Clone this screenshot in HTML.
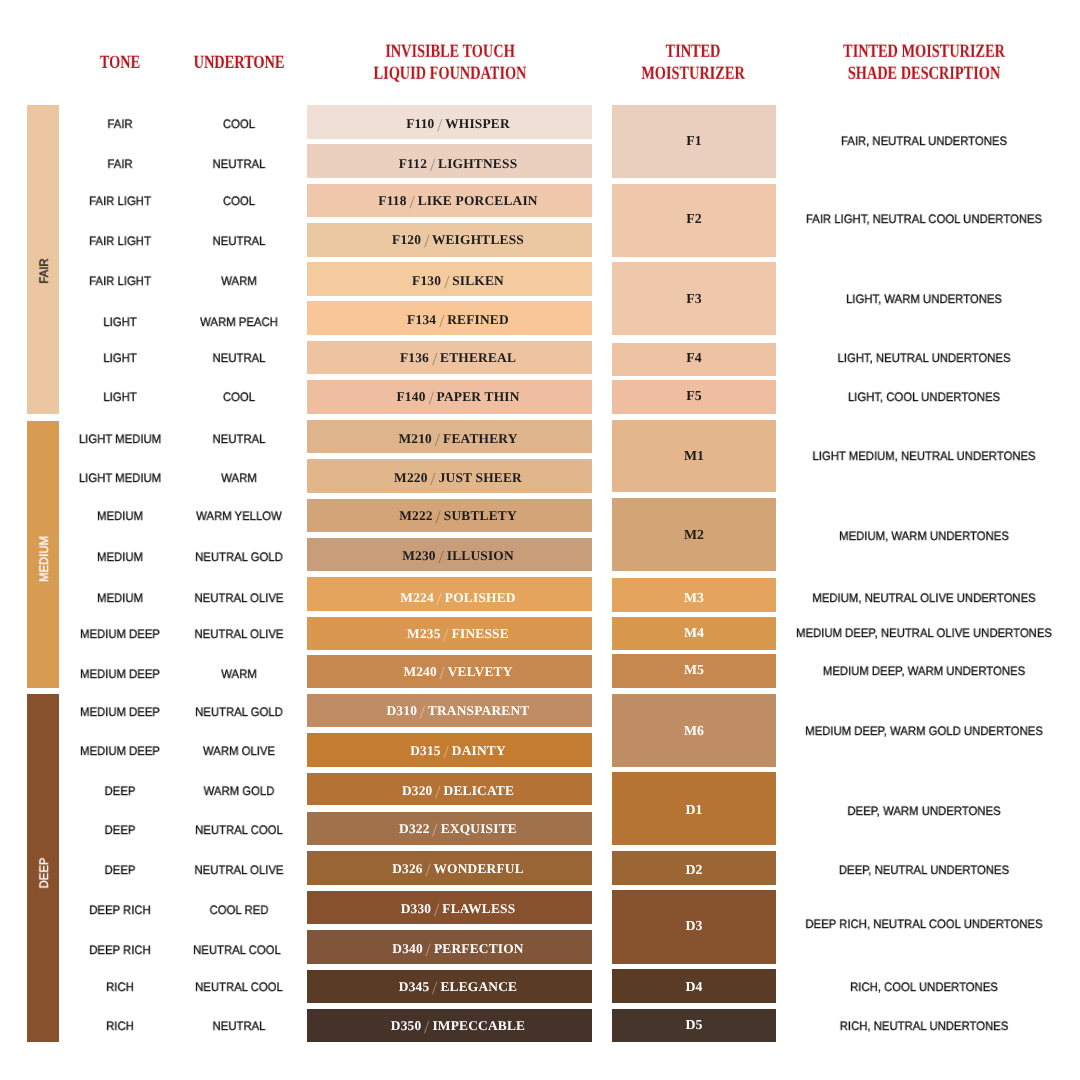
<!DOCTYPE html>
<html><head><meta charset="utf-8"><title>Shade Chart</title>
<style>
html,body{margin:0;padding:0;background:#fff;}
body{width:1080px;height:1080px;position:relative;overflow:hidden;}
.b{position:absolute;}
.t{position:absolute;white-space:nowrap;line-height:1;will-change:transform;text-rendering:geometricPrecision;}
.s{font-family:"Liberation Sans",sans-serif;font-size:12.2px;color:#111;-webkit-text-stroke:0.3px #111;transform:translate(-50%,-50%) scaleX(0.93);}
.f{font-family:"Liberation Serif",serif;font-weight:bold;font-size:13.4px;letter-spacing:0.2px;color:#1c1c1c;transform:translate(-50%,-50%);}
.f i{font-style:normal;font-weight:normal;opacity:.38;display:inline-block;transform:translateY(.6px) scale(1.4);}
.f.m{font-size:13.8px;letter-spacing:0;}
.t.w{color:#fff;}
.h{font-family:"Liberation Serif",serif;font-weight:bold;font-size:18.6px;color:#bb1119;line-height:22.2px;text-align:center;transform:translate(-50%,-50%) scaleX(0.77);}
.v{font-family:"Liberation Sans",sans-serif;font-size:12.2px;color:#111;-webkit-text-stroke:0.3px;transform:translate(-50%,-50%) rotate(-90deg) scaleX(0.93);}
</style></head><body>

<div class="t h" style="left:120.4px;top:62.5px">TONE</div>
<div class="t h" style="left:238.7px;top:62.5px">UNDERTONE</div>
<div class="t h" style="left:449.5px;top:62.5px">INVISIBLE TOUCH<br>LIQUID FOUNDATION</div>
<div class="t h" style="left:692.8px;top:62.5px">TINTED<br>MOISTURIZER</div>
<div class="t h" style="left:923.7px;top:62.5px">TINTED MOISTURIZER<br>SHADE DESCRIPTION</div>
<div class="b" style="left:27.2px;top:105px;width:31.6px;height:308.7px;background:#ecc6a1"></div>
<div class="t v" style="left:44.2px;top:270.5px">FAIR</div>
<div class="b" style="left:27.2px;top:421px;width:31.6px;height:267.2px;background:#d89b52"></div>
<div class="t v w" style="left:44.2px;top:558.6px">MEDIUM</div>
<div class="b" style="left:27.2px;top:694px;width:31.6px;height:348px;background:#88512d"></div>
<div class="t v w" style="left:44.2px;top:872.6px">DEEP</div>
<div class="t s" style="left:120.4px;top:124.1px">FAIR</div>
<div class="t s" style="left:238.7px;top:124.1px">COOL</div>
<div class="b" style="left:306.7px;top:105px;width:285.5px;height:33.9px;background:#efdfd4"></div>
<div class="t f" style="left:457.8px;top:123.8px">F110 <i>/</i> WHISPER</div>
<div class="t s" style="left:120.4px;top:164.1px">FAIR</div>
<div class="t s" style="left:238.7px;top:164.1px">NEUTRAL</div>
<div class="b" style="left:306.7px;top:144.4px;width:285.5px;height:33.8px;background:#ebd0bf"></div>
<div class="t f" style="left:457.8px;top:163.7px">F112 <i>/</i> LIGHTNESS</div>
<div class="t s" style="left:120.4px;top:201.1px">FAIR LIGHT</div>
<div class="t s" style="left:238.7px;top:201.1px">COOL</div>
<div class="b" style="left:306.7px;top:183.8px;width:285.5px;height:33.2px;background:#efc8ac"></div>
<div class="t f" style="left:457.8px;top:200.6px">F118 <i>/</i> LIKE PORCELAIN</div>
<div class="t s" style="left:120.4px;top:241.1px">FAIR LIGHT</div>
<div class="t s" style="left:238.7px;top:241.1px">NEUTRAL</div>
<div class="b" style="left:306.7px;top:222.9px;width:285.5px;height:33.8px;background:#ecc8a2"></div>
<div class="t f" style="left:457.8px;top:240.2px">F120 <i>/</i> WEIGHTLESS</div>
<div class="t s" style="left:120.4px;top:281.1px">FAIR LIGHT</div>
<div class="t s" style="left:238.7px;top:281.1px">WARM</div>
<div class="b" style="left:306.7px;top:261.8px;width:285.5px;height:33.8px;background:#f3cb9f"></div>
<div class="t f" style="left:457.8px;top:280.6px">F130 <i>/</i> SILKEN</div>
<div class="t s" style="left:120.4px;top:322.2px">LIGHT</div>
<div class="t s" style="left:238.7px;top:322.2px">WARM PEACH</div>
<div class="b" style="left:306.7px;top:301px;width:285.5px;height:33.9px;background:#f9c698"></div>
<div class="t f" style="left:457.8px;top:319.6px">F134 <i>/</i> REFINED</div>
<div class="t s" style="left:120.4px;top:357.8px">LIGHT</div>
<div class="t s" style="left:238.7px;top:357.8px">NEUTRAL</div>
<div class="b" style="left:306.7px;top:341.1px;width:285.5px;height:33.3px;background:#edc3a2"></div>
<div class="t f" style="left:457.8px;top:358.3px">F136 <i>/</i> ETHEREAL</div>
<div class="t s" style="left:120.4px;top:397px">LIGHT</div>
<div class="t s" style="left:238.7px;top:397px">COOL</div>
<div class="b" style="left:306.7px;top:380.3px;width:285.5px;height:33.4px;background:#efbea0"></div>
<div class="t f" style="left:457.8px;top:396.6px">F140 <i>/</i> PAPER THIN</div>
<div class="t s" style="left:120.4px;top:438.9px">LIGHT MEDIUM</div>
<div class="t s" style="left:238.7px;top:438.9px">NEUTRAL</div>
<div class="b" style="left:306.7px;top:420px;width:285.5px;height:32.9px;background:#deb48d"></div>
<div class="t f" style="left:457.8px;top:438.8px">M210 <i>/</i> FEATHERY</div>
<div class="t s" style="left:120.4px;top:477.7px">LIGHT MEDIUM</div>
<div class="t s" style="left:238.7px;top:477.7px">WARM</div>
<div class="b" style="left:306.7px;top:459.3px;width:285.5px;height:33.4px;background:#e2b68b"></div>
<div class="t f" style="left:457.8px;top:477.7px">M220 <i>/</i> JUST SHEER</div>
<div class="t s" style="left:120.4px;top:516.1px">MEDIUM</div>
<div class="t s" style="left:238.7px;top:516.1px">WARM YELLOW</div>
<div class="b" style="left:306.7px;top:498.9px;width:285.5px;height:32.9px;background:#d2a478"></div>
<div class="t f" style="left:457.8px;top:515.7px">M222 <i>/</i> SUBTLETY</div>
<div class="t s" style="left:120.4px;top:556.8px">MEDIUM</div>
<div class="t s" style="left:238.7px;top:556.8px">NEUTRAL GOLD</div>
<div class="b" style="left:306.7px;top:537.8px;width:285.5px;height:32.9px;background:#c89d79"></div>
<div class="t f" style="left:457.8px;top:556.1px">M230 <i>/</i> ILLUSION</div>
<div class="t s" style="left:120.4px;top:598.2px">MEDIUM</div>
<div class="t s" style="left:238.7px;top:598.2px">NEUTRAL OLIVE</div>
<div class="b" style="left:306.7px;top:577.1px;width:285.5px;height:33.6px;background:#e5a45e"></div>
<div class="t f w" style="left:457.8px;top:597.8px">M224 <i>/</i> POLISHED</div>
<div class="t s" style="left:120.4px;top:634px">MEDIUM DEEP</div>
<div class="t s" style="left:238.7px;top:634px">NEUTRAL OLIVE</div>
<div class="b" style="left:306.7px;top:616.7px;width:285.5px;height:33.3px;background:#d9974f"></div>
<div class="t f w" style="left:457.8px;top:633.9px">M235 <i>/</i> FINESSE</div>
<div class="t s" style="left:120.4px;top:673.8px">MEDIUM DEEP</div>
<div class="t s" style="left:238.7px;top:673.8px">WARM</div>
<div class="b" style="left:306.7px;top:654.9px;width:285.5px;height:33.3px;background:#c7884f"></div>
<div class="t f w" style="left:457.8px;top:671.8px">M240 <i>/</i> VELVETY</div>
<div class="t s" style="left:120.4px;top:711.8px">MEDIUM DEEP</div>
<div class="t s" style="left:238.7px;top:711.8px">NEUTRAL GOLD</div>
<div class="b" style="left:306.7px;top:694px;width:285.5px;height:33.1px;background:#c08c63"></div>
<div class="t f w" style="left:457.8px;top:711.3px">D310 <i>/</i> TRANSPARENT</div>
<div class="t s" style="left:120.4px;top:751.1px">MEDIUM DEEP</div>
<div class="t s" style="left:238.7px;top:751.1px">WARM OLIVE</div>
<div class="b" style="left:306.7px;top:732.9px;width:285.5px;height:33.8px;background:#c47c30"></div>
<div class="t f w" style="left:457.8px;top:751.1px">D315 <i>/</i> DAINTY</div>
<div class="t s" style="left:120.4px;top:790.7px">DEEP</div>
<div class="t s" style="left:238.7px;top:790.7px">WARM GOLD</div>
<div class="b" style="left:306.7px;top:772.7px;width:285.5px;height:32.6px;background:#b47234"></div>
<div class="t f w" style="left:457.8px;top:790.9px">D320 <i>/</i> DELICATE</div>
<div class="t s" style="left:120.4px;top:830px">DEEP</div>
<div class="t s" style="left:238.7px;top:830px">NEUTRAL COOL</div>
<div class="b" style="left:306.7px;top:811.6px;width:285.5px;height:33.4px;background:#a0714b"></div>
<div class="t f w" style="left:457.8px;top:829.4px">D322 <i>/</i> EXQUISITE</div>
<div class="t s" style="left:120.4px;top:870px">DEEP</div>
<div class="t s" style="left:238.7px;top:870px">NEUTRAL OLIVE</div>
<div class="b" style="left:306.7px;top:851.3px;width:285.5px;height:33.4px;background:#9a6534"></div>
<div class="t f w" style="left:457.8px;top:869.4px">D326 <i>/</i> WONDERFUL</div>
<div class="t s" style="left:120.4px;top:910px">DEEP RICH</div>
<div class="t s" style="left:238.7px;top:910px">COOL RED</div>
<div class="b" style="left:306.7px;top:890.8px;width:285.5px;height:33.2px;background:#87512e"></div>
<div class="t f w" style="left:457.8px;top:909.4px">D330 <i>/</i> FLAWLESS</div>
<div class="t s" style="left:120.4px;top:950px">DEEP RICH</div>
<div class="t s" style="left:237.4px;top:950px">NEUTRAL COOL</div>
<div class="b" style="left:306.7px;top:930.2px;width:285.5px;height:33.5px;background:#80553a"></div>
<div class="t f w" style="left:457.8px;top:949px">D340 <i>/</i> PERFECTION</div>
<div class="t s" style="left:120.4px;top:987.1px">RICH</div>
<div class="t s" style="left:238.7px;top:987.1px">NEUTRAL COOL</div>
<div class="b" style="left:306.7px;top:969.7px;width:285.5px;height:33px;background:#5a3b26"></div>
<div class="t f w" style="left:457.8px;top:986.6px">D345 <i>/</i> ELEGANCE</div>
<div class="t s" style="left:120.4px;top:1025.6px">RICH</div>
<div class="t s" style="left:238.7px;top:1025.6px">NEUTRAL</div>
<div class="b" style="left:306.7px;top:1009px;width:285.5px;height:32.9px;background:#45332a"></div>
<div class="t f w" style="left:457.8px;top:1025.9px">D350 <i>/</i> IMPECCABLE</div>
<div class="b" style="left:612px;top:105px;width:164px;height:72.8px;background:#eacfbf"></div>
<div class="t f m" style="left:694.3px;top:140.6px">F1</div>
<div class="t s" style="left:923.6px;top:141.1px">FAIR, NEUTRAL UNDERTONES</div>
<div class="b" style="left:612px;top:184px;width:164px;height:72.7px;background:#efc8ac"></div>
<div class="t f m" style="left:694.3px;top:218.5px">F2</div>
<div class="t s" style="left:923.6px;top:219px">FAIR LIGHT, NEUTRAL COOL UNDERTONES</div>
<div class="b" style="left:612px;top:262.4px;width:164px;height:72.3px;background:#efc8ac"></div>
<div class="t f m" style="left:694.3px;top:298.5px">F3</div>
<div class="t s" style="left:923.6px;top:298.7px">LIGHT, WARM UNDERTONES</div>
<div class="b" style="left:612px;top:342.6px;width:164px;height:33.3px;background:#edc3a3"></div>
<div class="t f m" style="left:694.3px;top:358.4px">F4</div>
<div class="t s" style="left:923.6px;top:357.9px">LIGHT, NEUTRAL UNDERTONES</div>
<div class="b" style="left:612px;top:380px;width:164px;height:33.7px;background:#efbea0"></div>
<div class="t f m" style="left:694.3px;top:396.3px">F5</div>
<div class="t s" style="left:923.6px;top:396.8px">LIGHT, COOL UNDERTONES</div>
<div class="b" style="left:612px;top:420px;width:164px;height:72.2px;background:#e3b68b"></div>
<div class="t f m" style="left:694.3px;top:455.5px">M1</div>
<div class="t s" style="left:923.6px;top:456.1px">LIGHT MEDIUM, NEUTRAL UNDERTONES</div>
<div class="b" style="left:612px;top:498.4px;width:164px;height:72.7px;background:#d3a476"></div>
<div class="t f m" style="left:694.3px;top:535.2px">M2</div>
<div class="t s" style="left:923.6px;top:535.7px">MEDIUM, WARM UNDERTONES</div>
<div class="b" style="left:612px;top:578.4px;width:164px;height:33.2px;background:#e5a45e"></div>
<div class="t f m w" style="left:694.3px;top:597.7px">M3</div>
<div class="t s" style="left:923.6px;top:597.8px">MEDIUM, NEUTRAL OLIVE UNDERTONES</div>
<div class="b" style="left:612px;top:616.7px;width:164px;height:33.3px;background:#d8994f"></div>
<div class="t f m w" style="left:694.3px;top:632.7px">M4</div>
<div class="t s" style="left:923.6px;top:632.9px">MEDIUM DEEP, NEUTRAL OLIVE UNDERTONES</div>
<div class="b" style="left:612px;top:654.4px;width:164px;height:33.8px;background:#c7884f"></div>
<div class="t f m w" style="left:694.3px;top:670.3px">M5</div>
<div class="t s" style="left:923.6px;top:671px">MEDIUM DEEP, WARM UNDERTONES</div>
<div class="b" style="left:612px;top:694px;width:164px;height:72.7px;background:#c08e65"></div>
<div class="t f m w" style="left:694.3px;top:730.8px">M6</div>
<div class="t s" style="left:923.6px;top:731.2px">MEDIUM DEEP, WARM GOLD UNDERTONES</div>
<div class="b" style="left:612px;top:772.2px;width:164px;height:72.9px;background:#b57434"></div>
<div class="t f m w" style="left:694.3px;top:810.4px">D1</div>
<div class="t s" style="left:923.6px;top:811px">DEEP, WARM UNDERTONES</div>
<div class="b" style="left:612px;top:851.1px;width:164px;height:33.8px;background:#9b6534"></div>
<div class="t f m w" style="left:694.3px;top:869.9px">D2</div>
<div class="t s" style="left:923.6px;top:870px">DEEP, NEUTRAL UNDERTONES</div>
<div class="b" style="left:612px;top:890.4px;width:164px;height:73.6px;background:#87522e"></div>
<div class="t f m w" style="left:694.3px;top:925.6px">D3</div>
<div class="t s" style="left:923.6px;top:923.9px">DEEP RICH, NEUTRAL COOL UNDERTONES</div>
<div class="b" style="left:612px;top:968.9px;width:164px;height:34px;background:#5a3b26"></div>
<div class="t f m w" style="left:694.3px;top:986.7px">D4</div>
<div class="t s" style="left:923.6px;top:987.1px">RICH, COOL UNDERTONES</div>
<div class="b" style="left:612px;top:1008.9px;width:164px;height:33.3px;background:#45352a"></div>
<div class="t f m w" style="left:694.3px;top:1025px">D5</div>
<div class="t s" style="left:923.6px;top:1025.6px">RICH, NEUTRAL UNDERTONES</div>
</body></html>
